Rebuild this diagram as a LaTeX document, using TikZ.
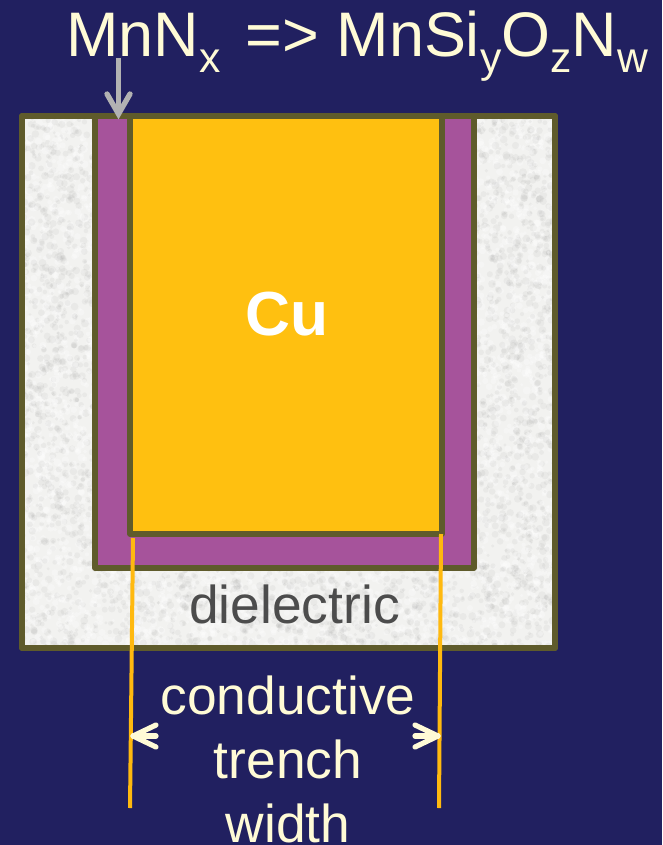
\documentclass[tikz,border=0pt]{standalone}
\usepackage{fontspec}
\setmainfont{Liberation Sans}
\definecolor{bgnavy}{HTML}{212060}
\definecolor{olive}{HTML}{5F5B2B}
\definecolor{purp}{HTML}{A6539B}
\definecolor{copper}{HTML}{FFC010}
\definecolor{guide}{HTML}{FFB90F}
\definecolor{cream}{HTML}{FFFBD6}
\definecolor{diel}{HTML}{F2F2F0}
\definecolor{arrowgray}{HTML}{B2B2B2}
\newcommand{\subsc}[1]{\raisebox{-11.5pt}{\fontsize{32pt}{34pt}\selectfont #1}}
\newcommand{\mottle}[5]{%
  \foreach \i in {1,...,#5}{%
    \pgfmathsetmacro{\px}{#1+#3*rnd}%
    \pgfmathsetmacro{\py}{#2+#4*rnd}%
    \pgfmathsetmacro{\pr}{1.5+2.5*rnd}%
    \pgfmathparse{rnd<0.55?1:0}%
    \ifnum\pgfmathresult=1
      \fill[speck] (\px,\py) circle[radius=\pr];
    \else
      \fill[lightspeck] (\px,\py) circle[radius=\pr];
    \fi
  }%
}
\tikzset{
  layer/.style={anchor=north west,inner sep=0pt,outer sep=0pt,draw=olive,line width=4.2pt,line join=round},
  guideline/.style={draw=guide,line width=3pt},
  headline/.style={draw=cream,line width=3.9pt,line cap=round,line join=round},
  creamtext/.style={text=cream,inner sep=0pt},
  speck/.style={fill=black!50,opacity=0.08},
  lightspeck/.style={fill=white,opacity=0.3},
}
\begin{document}
\begin{tikzpicture}[x=0.75pt,y=-0.75pt]
\useasboundingbox (0,0) rectangle (662,845);
\fill[bgnavy] (0,0) rectangle (662,845);
% dielectric block with mottled texture
\node[layer,fill=diel,minimum width=399.75pt,minimum height=399pt] (dielectric) at (22,116) {};
\begin{scope}
\clip (dielectric.north west) rectangle (dielectric.south east);
\pgfmathsetseed{7}
\mottle{22}{116}{74}{532}{1500}
\mottle{474}{116}{81}{532}{1700}
\mottle{95}{568}{380}{80}{1200}
\end{scope}
\draw[draw=olive,line width=4.2pt,line join=round] (dielectric.north west) rectangle (dielectric.south east);
% barrier and copper
\node[layer,fill=purp,minimum width=284.25pt,minimum height=339pt] (barrier) at (95,116) {};
\node[layer,fill=copper,minimum width=234pt,minimum height=313.5pt] (copper) at (130,116) {};
% labels
\node[creamtext,anchor=base west,font=\fontsize{47.2pt}{50pt}\selectfont] (title) at (66,57)
  {MnN\subsc{x}\hspace{0.4em}=> MnSi\subsc{y}O\subsc{z}N\subsc{w}};
\node[anchor=base,inner sep=0pt,text=white,font=\fontsize{46.7pt}{50pt}\selectfont\bfseries] (culabel) at (287,335) {Cu};
\node[anchor=base,inner sep=0pt,text=black!70,font=\fontsize{40pt}{44pt}\selectfont] (diellabel) at (294.5,623) {dielectric};
\node[creamtext,anchor=south,align=center,font=\fontsize{40pt}{48pt}\selectfont] (width) at (288,843) {conductive\\trench\\width};
% guide lines
\coordinate (gl) at (130,808);
\coordinate (gr) at (439,808);
\coordinate (cl) at ([shift={(3,4)}]copper.south west);
\coordinate (cr) at ([shift={(-1,0)}]copper.south east);
\draw[guideline] (cl) -- (gl);
\draw[guideline] (cr) -- (gr);
% dimension arrow heads
\coordinate (tipl) at (133,736);
\coordinate (tipr) at (438,736);
\draw[headline] (156,725) -- (tipl) -- (156,747);
\draw[headline] (tipl) -- (156,736);
\draw[headline] (415,725) -- (tipr) -- (415,747);
\draw[headline] (tipr) -- (415,736);
% grey arrow
\coordinate (arrowstart) at (118.5,58);
\coordinate (arrowtip) at (118.5,114);
\draw[draw=arrowgray,line width=4pt] (arrowstart) -- (arrowtip);
\draw[draw=arrowgray,line width=4pt,line cap=round,line join=miter] (107,94) -- (arrowtip) -- (130,94);
\end{tikzpicture}
\end{document}
